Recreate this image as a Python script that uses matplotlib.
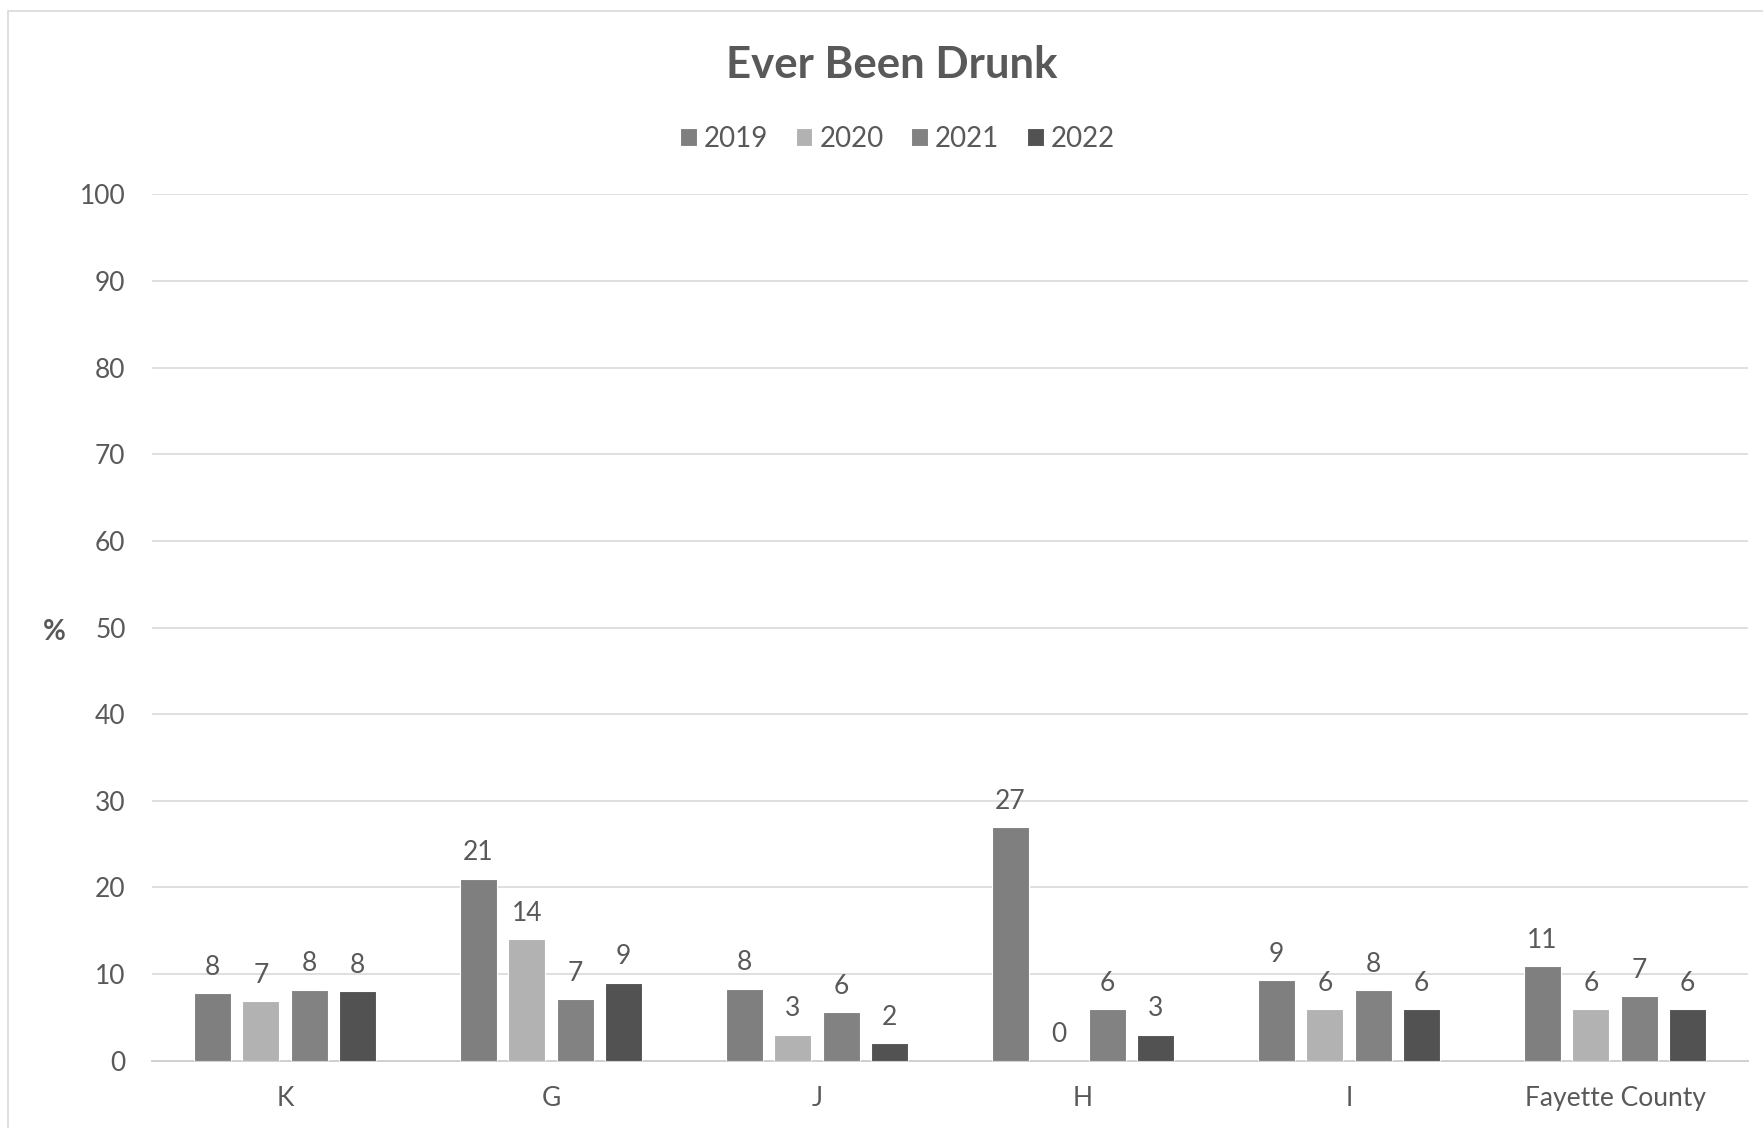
import numpy as np
import matplotlib
matplotlib.use('Agg')
from matplotlib import pyplot as plt
from matplotlib.patches import Rectangle

plt.rcParams['font.family'] = ['Lato', 'DejaVu Sans']

# data
categories = ['K', 'G', 'J', 'H', 'I', 'Fayette County']
years = ['2019', '2020', '2021', '2022']
v2019 = [7.8, 21.0, 8.3, 27.0, 9.3, 10.9]
v2020 = [6.9, 14.0, 3.0, 0.0, 5.9, 5.9]
v2021 = [8.2, 7.1, 5.6, 5.9, 8.1, 7.4]
v2022 = [8.0, 9.0, 2.0, 3.0, 5.9, 5.9]
series = [v2019, v2020, v2021, v2022]
colors = ['#7f7f7f', '#b2b2b2', '#828282', '#525252']
yticks = [0, 10, 20, 30, 40, 50, 60, 70, 80, 90, 100]

txt = '#595959'

fig = plt.figure(figsize=(17.63, 11.28), dpi=100)
ax = fig.add_axes([0.0862, 0.0598, 0.9053, 0.7678])

# chart border
fig.patches.append(Rectangle((0.0045, -0.01), 1.0, 1.0 - 0.0098 + 0.01, transform=fig.transFigure,
                             fill=False, edgecolor='#d9d9d9', linewidth=1.2))

x = np.arange(len(categories))
w = 0.139
pitch = 0.182
for i, (vals, c, yr) in enumerate(zip(series, colors, years)):
    pos = x + (i - 1.5) * pitch
    bars = ax.bar(pos, vals, width=w, color=c, edgecolor='white', linewidth=0.8, label=yr, zorder=3)
    for b, v in zip(bars, vals):
        ax.annotate(f'{v:.0f}', (b.get_x() + b.get_width() / 2, v),
                    xytext=(0, 9.5), textcoords='offset points',
                    ha='center', va='bottom', fontsize=19, color=txt)

ax.set_xlim(-0.5, len(categories) - 0.5)
ax.set_ylim(0, 100)
ax.set_yticks(yticks)
ax.set_xticks(x)
ax.set_xticklabels(categories)
ax.tick_params(axis='both', length=0, labelsize=19, labelcolor=txt)
ax.tick_params(axis='x', pad=18)
ax.tick_params(axis='y', pad=19)
ax.grid(axis='y', color='#d9d9d9', linewidth=1.2, zorder=0)
for s in ['top', 'right', 'left']:
    ax.spines[s].set_visible(False)
ax.spines['bottom'].set_color('#d0d0d0')
ax.spines['bottom'].set_linewidth(1.4)

fig.text(0.031, 0.44, '%', fontsize=20, fontweight='bold', color=txt, ha='center', va='center',
         transform=fig.transFigure)
fig.text(0.506, 0.942, 'Ever Been Drunk', fontsize=31.5, fontweight='bold', color=txt,
         ha='center', va='center')

fig.legend(loc='center', bbox_to_anchor=(0.509, 0.877), ncol=4, frameon=False,
           fontsize=20, labelcolor=txt, handlelength=0.6, handleheight=0.6,
           handletextpad=0.25, columnspacing=1.0)

fig.savefig('out.png', dpi=100, facecolor='white')
